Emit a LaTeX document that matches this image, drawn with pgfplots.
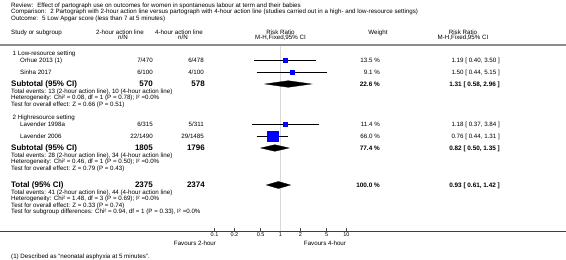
\documentclass[border=0pt]{standalone}
\usepackage{fontspec}
\setmainfont{Liberation Sans}
\usepackage{pgfplots}
\pgfplotsset{compat=1.18}
\newcommand{\rf}{\fontsize{6.2}{7}\selectfont}
\newcommand{\bsf}{\fontsize{6.4}{7}\selectfont\bfseries}
\newcommand{\bbf}{\fontsize{8}{9}\selectfont\bfseries}
% text helpers: x, y(center of text line in px from top), text
\newcommand{\Lt}[3]{\node[anchor=base west,inner sep=0pt,font=\rf] at (#1,#2+2.2) {#3};}
\newcommand{\Rt}[3]{\node[anchor=base east,inner sep=0pt,font=\rf] at (#1,#2+2.2) {#3};}
\newcommand{\Ct}[3]{\node[anchor=base,inner sep=0pt,font=\rf] at (#1,#2+2.2) {#3};}
\newcommand{\Rb}[3]{\node[anchor=base east,inner sep=0pt,font=\bsf] at (#1,#2+2.3) {#3};}
\newcommand{\LB}[3]{\node[anchor=base west,inner sep=0pt,font=\bbf] at (#1,#2+2.9) {#3};}
\newcommand{\RB}[3]{\node[anchor=base east,inner sep=0pt,font=\bbf] at (#1,#2+2.9) {#3};}
\begin{document}
\begin{tikzpicture}
\begin{axis}[
  scale only axis, width=566pt, height=231pt,
  xmode=log, xmin=5.62e-5, xmax=21180, ymin=0, ymax=231,
  axis y line=none, axis x line*=bottom,
  x axis line style={-, line width=0.6pt, color=black!75},
  xtick={0.1,0.2,0.5,1,2,5,10}, xticklabels={0.1,0.2,0.5,1,2,5,10},
  minor xtick={},
  tick align=inside, major tick length=2.5pt,
  xtick style={black!70, line width=0.4pt},
  xticklabel style={font=\fontsize{5.5}{6}\selectfont, inner sep=1.2pt},
  clip=false,
]
\coordinate (TL) at (rel axis cs:0,1);
% line of no effect
\addplot[black!15, line width=1.3pt] coordinates {(1,0) (1,186)};
% confidence intervals of the studies
\addplot[black, line width=0.5pt] coordinates {(0.40,171) (3.50,171)};
\addplot[black, line width=0.5pt] coordinates {(0.44,159) (5.15,159)};
\addplot[black, line width=0.5pt] coordinates {(0.37,106.5) (3.84,106.5)};
\addplot[black, line width=0.5pt] coordinates {(0.44,94.5) (1.31,94.5)};
% point estimates (box size by weight)
\addplot[only marks, mark=square*, mark options={fill=blue, draw=blue}, mark size=2.1pt] coordinates {(1.19,171)};
\addplot[only marks, mark=square*, mark options={fill=blue, draw=blue}, mark size=1.8pt] coordinates {(1.50,159)};
\addplot[only marks, mark=square*, mark options={fill=blue, draw=blue}, mark size=2.0pt] coordinates {(1.18,106.5)};
\addplot[only marks, mark=square*, mark options={fill=blue, draw=blue}, mark size=5.2pt] coordinates {(0.76,94.5)};
% pooled estimates
\addplot[fill=black, draw=black, line width=0.3pt] coordinates {(0.58,147) (1.31,150.3) (2.96,147) (1.31,143.7)} -- cycle;
\addplot[fill=black, draw=black, line width=0.3pt] coordinates {(0.50,83) (0.82,86.3) (1.35,83) (0.82,79.7)} -- cycle;
\addplot[fill=black, draw=black, line width=0.3pt] coordinates {(0.61,46) (0.93,49.5) (1.42,46) (0.93,42.5)} -- cycle;
\end{axis}
\begin{scope}[shift={(TL)}, x=1pt, y=-1pt]
\draw[black!45, line width=2pt] (0,45) -- (566,45);
\Lt{11}{5}{Review:~ Effect of partograph use on outcomes for women in spontaneous labour at term and their babies}
\Lt{11}{11.5}{Comparison:~ 2 Partograph with 2-hour action line versus partograph with 4-hour action line (studies carried out in a high- and low-resource settings)}
\Lt{11}{18}{Outcome:~ 5 Low Apgar score (less than 7 at 5 minutes)}
% header
\Lt{11}{32}{Study or subgroup}
\Ct{120}{32}{2-hour action line}
\Ct{123}{37.5}{n/N}
\Ct{179}{32}{4-hour action line}
\Ct{183}{37.5}{n/N}
\Ct{280.5}{32}{Risk Ratio}
\Ct{280.5}{37.5}{M-H,Fixed,95\% CI}
\Ct{378}{32}{Weight}
\Ct{463}{32}{Risk Ratio}
\Ct{463}{37.5}{M-H,Fixed,95\% CI}
% group 1
\Lt{12.5}{53}{1 Low-resource setting}
\Lt{20}{60}{Orhue 2013 (1)}
\Rt{153}{60}{7/470}\Rt{204}{60}{6/478}\Rt{380}{60}{13.5 \%}\Rt{500}{60}{1.19 [ 0.40, 3.50 ]}
\Lt{20}{72}{Sinha 2017}
\Rt{153}{72}{6/100}\Rt{204}{72}{4/100}\Rt{380}{72}{9.1 \%}\Rt{500}{72}{1.50 [ 0.44, 5.15 ]}
\LB{11}{84}{Subtotal (95\% CI)}
\RB{153}{84}{570}\RB{205}{84}{578}\Rb{380}{84}{22.6 \%}\Rb{500}{84}{1.31 [ 0.58, 2.96 ]}
\Lt{11}{91}{Total events: 13 (2-hour action line), 10 (4-hour action line)}
\Lt{11}{97.5}{Heterogeneity: Chi² = 0.08, df = 1 (P = 0.78); I² =0.0\%}
\Lt{11}{104}{Test for overall effect: Z = 0.66 (P = 0.51)}
% group 2
\Lt{12.5}{117.5}{2 Highresource setting}
\Lt{20}{124.5}{Lavender 1998a}
\Rt{153}{124.5}{6/315}\Rt{204}{124.5}{5/311}\Rt{380}{124.5}{11.4 \%}\Rt{500}{124.5}{1.18 [ 0.37, 3.84 ]}
\Lt{20}{136.5}{Lavender 2006}
\Rt{153}{136.5}{22/1490}\Rt{204}{136.5}{29/1485}\Rt{380}{136.5}{66.0 \%}\Rt{500}{136.5}{0.76 [ 0.44, 1.31 ]}
\LB{11}{148}{Subtotal (95\% CI)}
\RB{153}{148}{1805}\RB{205}{148}{1796}\Rb{380}{148}{77.4 \%}\Rb{500}{148}{0.82 [ 0.50, 1.35 ]}
\Lt{11}{155}{Total events: 28 (2-hour action line), 34 (4-hour action line)}
\Lt{11}{161.5}{Heterogeneity: Chi² = 0.46, df = 1 (P = 0.50); I² =0.0\%}
\Lt{11}{168}{Test for overall effect: Z = 0.79 (P = 0.43)}
% total
\LB{11}{185}{Total (95\% CI)}
\RB{153}{185}{2375}\RB{205}{185}{2374}\Rb{380}{185}{100.0 \%}\Rb{500}{185}{0.93 [ 0.61, 1.42 ]}
\Lt{11}{192}{Total events: 41 (2-hour action line), 44 (4-hour action line)}
\Lt{11}{198.5}{Heterogeneity: Chi² = 1.48, df = 3 (P = 0.69); I² =0.0\%}
\Lt{11}{205}{Test for overall effect: Z = 0.33 (P = 0.74)}
\Lt{11}{211.5}{Test for subgroup differences: Chi² = 0.94, df = 1 (P = 0.33), I² =0.0\%}
% favours
\Ct{195}{243.5}{Favours 2-hour}
\Ct{325}{243.5}{Favours 4-hour}
\Lt{11}{256}{(1) Described as “neonatal asphyxia at 5 minutes”.}
\pgfresetboundingbox
\path[use as bounding box] (0,0) rectangle (566,260);
\end{scope}
\end{tikzpicture}
\end{document}
